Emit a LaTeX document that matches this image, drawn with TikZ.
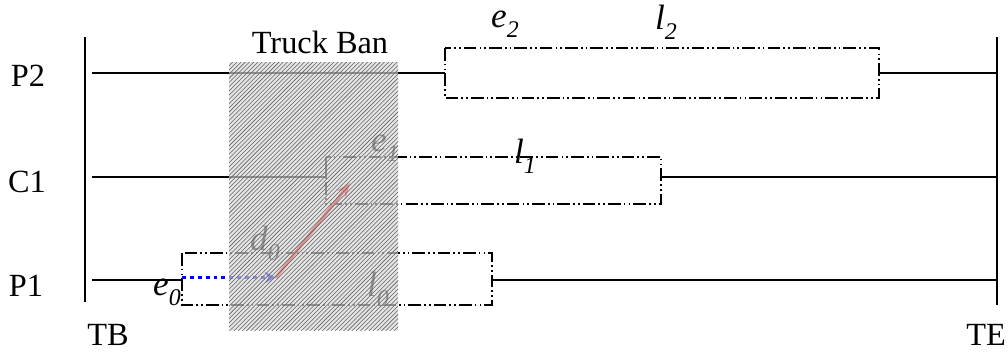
\documentclass[tikz,border=0pt]{standalone}
\usepackage{fontspec}
\setmainfont{Liberation Serif}
\usetikzlibrary{arrows.meta, patterns}
\newcommand{\vsub}[1]{\raisebox{-0.28em}{\fontsize{17}{17}\selectfont #1}}
\tikzset{
  tline/.style={line width=1.1pt, black},
  dashbox/.style={line width=1.1pt, dash pattern=on 9pt off 2.2pt on 1.2pt off 2.2pt on 1.2pt off 2.2pt},
  lab/.style={font=\fontsize{23}{24}\selectfont, inner sep=0pt},
  var/.style={font=\fontsize{25}{26}\selectfont\itshape, inner sep=0pt},
  ban/.style={fill=gray!30, fill opacity=0.68},
}

\begin{document}
\begin{tikzpicture}[x=0.025cm, y=-0.025cm]
  \useasboundingbox (0,0) rectangle (1008,358);
  % time bounds
  \coordinate (tb1) at (85,37);
  \coordinate (tb2) at (85,302);
  \coordinate (te1) at (997,37);
  \coordinate (te2) at (997,305);
  \draw[tline] (tb1) -- (tb2);
  \draw[tline] (te1) -- (te2);
  \node[lab] (tb) at (108,335) {TB};
  \node[lab] (te) at (986,335) {TE};

  % P2
  \node[lab] (p2) at (28,76) {P2};
  \coordinate (p2s) at (92,73);
  \coordinate (p2a) at (445,73);
  \coordinate (p2b) at (879,73);
  \coordinate (p2e) at (997,73);
  \draw[tline] (p2s) -- (p2a);
  \draw[tline] (p2b) -- (p2e);
  \draw[dashbox] (445,48) rectangle (879,98);
  \node[var] (e2) at (505,24) {e\vsub{2}};
  \node[var] (l2) at (666,22) {l\vsub{2}};

  % C1
  \node[lab] (c1) at (27,182) {C1};
  \coordinate (c1s) at (92,177);
  \coordinate (c1a) at (326,177);
  \coordinate (c1u) at (326,157);
  \coordinate (c1b) at (661,177);
  \coordinate (c1e) at (997,177);
  \draw[tline] (c1s) -- (c1a) -- (c1u);
  \draw[tline] (c1b) -- (c1e);
  \draw[dashbox] (326,157) rectangle (661,204);
  \node[var] (e1) at (385,148) {e\vsub{1}};
  \node[var] (l1) at (525,156) {l\vsub{1}};

  % P1
  \node[lab] (p1) at (26,286) {P1};
  \coordinate (p1s) at (92,280);
  \coordinate (p1a) at (182,280);
  \coordinate (p1b) at (492,280);
  \coordinate (p1e) at (997,280);
  \draw[tline] (p1s) -- (p1a);
  \draw[tline] (p1b) -- (p1e);
  \draw[dashbox] (182,253) rectangle (492,305);
  \node[var] (e0) at (167,292) {e\vsub{0}};
  \node[var] (d0) at (265,243) {d\vsub{0}};
  \node[var] (l0) at (378,289) {l\vsub{0}};

  % moves
  \coordinate (m0) at (182,277.5);
  \coordinate (m1) at (276,277.5);
  \coordinate (m2) at (350,183);
  \draw[blue, line width=2.8pt, dash pattern=on 2.8pt off 2.8pt, -{Stealth[length=8pt, width=8pt]}] (m0) -- (m1);
  \draw[red, line width=2.2pt, -{Stealth[length=10pt, width=8pt]}] (m1) -- (m2);

  % truck ban
  \fill[ban] (229,62) rectangle (398,330);
  \fill[pattern=north east lines, pattern color=gray!75!black] (229,62) rectangle (398,330);
  \node[lab] (tban) at (320,42) {Truck Ban};
\end{tikzpicture}
\end{document}
